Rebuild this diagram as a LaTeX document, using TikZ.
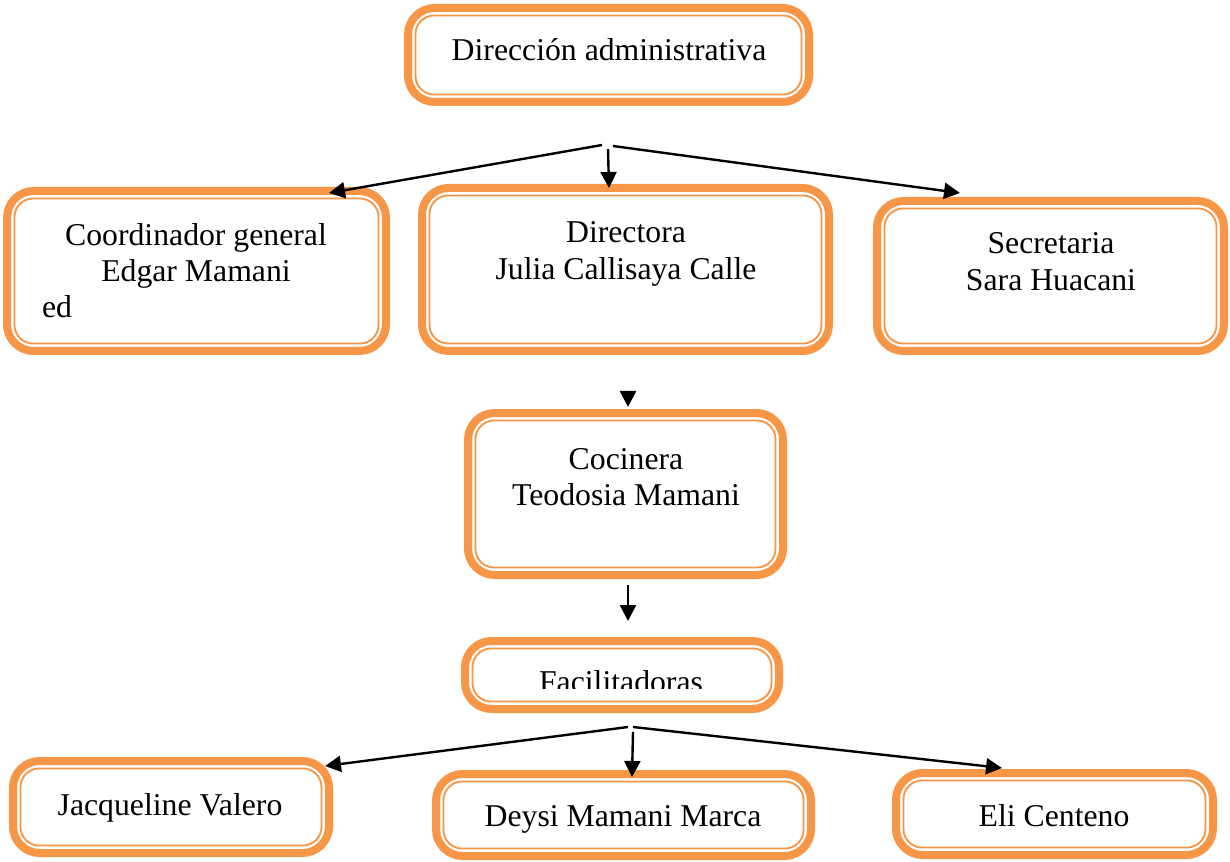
\documentclass[tikz,border=0pt]{standalone}
\usepackage{fontspec}
\setmainfont{Liberation Serif}
\usetikzlibrary{arrows.meta}
\definecolor{orgc}{HTML}{F79646}
\newcommand{\orgbox}[5]{%
  \pgfmathsetmacro{\bw}{(#4-#2-8)*0.75}%
  \pgfmathsetmacro{\bh}{(#5-#3-8)*0.75}%
  \node[obox, minimum width=\bw pt, minimum height=\bh pt] (#1) at ({(#2+#4)/2},{(#3+#5)/2}) {};}
\begin{document}
\begin{tikzpicture}[x=0.75pt,y=-0.75pt,
  obox/.style={draw=orgc, line width=6pt, rounded corners=20pt, inner sep=0pt, outer sep=0pt,
    path picture={\draw[orgc, line width=1.4pt, rounded corners=14pt]
      ([shift={(5.6pt,5.6pt)}]path picture bounding box.south west) rectangle
      ([shift={(-5.6pt,-5.6pt)}]path picture bounding box.north east);}},
  txt/.style={inner sep=0pt, outer sep=0pt, font=\fontsize{23.8}{27}\selectfont, text=black},
  conn/.style={draw=black, line width=1.8pt, -{Triangle[length=12pt,width=12pt]}}]
\useasboundingbox[fill=white] (0,0) rectangle (1230,862);

% boxes
\orgbox{dir}{404}{4}{813}{106}
\orgbox{coo}{3}{187}{390}{355}
\orgbox{dra}{418}{184}{833}{355}
\orgbox{sec}{873}{197}{1228}{355}
\orgbox{coc}{464}{409}{787}{579}
\orgbox{fac}{461}{637}{783}{713}
\orgbox{jac}{9}{757}{333}{857}
\orgbox{dey}{432}{770}{815}{860}
\orgbox{eli}{892}{769}{1217}{859}

% texts
\node[txt, anchor=base] (tdir) at (609,61) {Dirección administrativa};
\node[txt, anchor=base] (tcoo1) at (196,246) {Coordinador general};
\node[txt, anchor=base] (tcoo2) at (196,282) {Edgar Mamani};
\node[txt, anchor=base west] (tcoo3) at (42,318) {ed};
\node[txt, anchor=base] (tdra1) at (626,243) {Directora};
\node[txt, anchor=base] (tdra2) at (626,280) {Julia Callisaya Calle};
\node[txt, anchor=base] (tsec1) at (1051,254) {Secretaria};
\node[txt, anchor=base] (tsec2) at (1051,291) {Sara Huacani};
\node[txt, anchor=base] (tcoc1) at (626,469) {Cocinera};
\node[txt, anchor=base] (tcoc2) at (626,505) {Teodosia Mamani};
\begin{scope}
\clip (470,645) rectangle (775,688);
\node[txt, anchor=base] (tfac) at (621,692) {Facilitadoras};
\end{scope}
\node[txt, anchor=base] (tjac) at (170,815) {Jacqueline Valero};
\node[txt, anchor=base] (tdey) at (623,826) {Deysi Mamani Marca};
\node[txt, anchor=base] (teli) at (1054,826) {Eli Centeno};

% connector coordinates
\coordinate (a1) at (602,145);
\coordinate (a1t) at (329,193);
\coordinate (a2) at (608,149);
\coordinate (a2t) at (609,188);
\coordinate (a3) at (613,146);
\coordinate (a3t) at (960,193);
\coordinate (b1) at (628,393);
\coordinate (b1t) at (628,407);
\coordinate (c1) at (628,585);
\coordinate (c1t) at (628,621);
\coordinate (d1) at (628,727);
\coordinate (d1t) at (325,766);
\coordinate (d2) at (633,732);
\coordinate (d2t) at (632,777);
\coordinate (d3) at (633,727);
\coordinate (d3t) at (1002,768);

\draw[conn] (a1) -- (a1t);
\draw[conn] (a2) -- (a2t);
\draw[conn] (a3) -- (a3t);
\draw[conn] (b1) -- (b1t);
\draw[conn] (c1) -- (c1t);
\draw[conn] (d1) -- (d1t);
\draw[conn] (d2) -- (d2t);
\draw[conn] (d3) -- (d3t);
\end{tikzpicture}
\end{document}
